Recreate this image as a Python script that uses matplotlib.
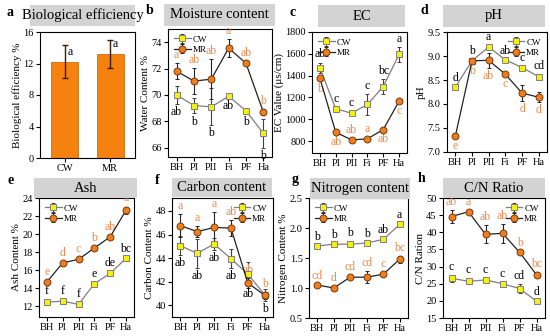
import matplotlib
matplotlib.use("Agg")
import matplotlib.pyplot as plt
from matplotlib.patches import Rectangle
import numpy as np

plt.rcParams['font.family'] = ['Liberation Serif', 'DejaVu Serif']
plt.rcParams['font.size'] = 8

# ---------------------------------------------------------------------------
# data
# ---------------------------------------------------------------------------
stages = ['BH', 'PI', 'PII', 'Fi', 'PF', 'Ha']
groups = ['CW', 'MR']

bio_eff = [12.2, 13.2]
bio_err = [2.1, 1.8]
bio_letters = ['a', 'a']

moist_cw = [70.0, 69.2, 69.1, 69.9, 68.8, 67.1]
moist_cw_err = [0.7, 0.6, 1.4, 0.15, 0.25, 1.1]
moist_mr = [71.8, 71.05, 71.2, 73.55, 72.4, 68.7]
moist_mr_err = [0.6, 1.0, 1.5, 0.7, 0.15, 0.2]
moist_cw_let = ['ab', 'b', 'b', 'ab', 'b', 'b']
moist_mr_let = ['a', 'ab', 'ab', 'a', 'ab', 'b']

ec_cw = [1470, 1095, 1055, 1135, 1300, 1595]
ec_cw_err = [50, 20, 20, 95, 70, 70]
ec_mr = [1375, 880, 810, 820, 905, 1165]
ec_mr_err = [20, 15, 15, 15, 15, 15]
ec_cw_let = ['ab', 'c', 'c', 'c', 'bc', 'a']
ec_mr_let = ['b', 'ab', 'ab', 'a', 'ab', 'c']

ph_cw = [8.35, 8.9, 9.19, 8.92, 8.76, 8.57]
ph_cw_err = [0.03, 0.03, 0.04, 0.02, 0.03, 0.05]
ph_mr = [7.33, 8.9, 8.91, 8.62, 8.23, 8.14]
ph_mr_err = [0.04, 0.04, 0.15, 0.03, 0.17, 0.1]
ph_cw_let = ['d', 'b', 'a', 'ab', 'c', 'cd']
ph_mr_let = ['e', 'b', 'ab', 'c', 'd', 'd']

ash_cw = [12.45, 12.55, 12.2, 14.5, 15.65, 17.3]
ash_cw_err = [0.3, 0.2, 0.2, 0.2, 0.2, 0.2]
ash_mr = [14.7, 16.8, 17.2, 18.45, 19.7, 22.65]
ash_mr_err = [0.2, 0.2, 0.2, 0.2, 0.2, 0.4]
ash_cw_let = ['f', 'f', 'f', 'e', 'de', 'bc']
ash_mr_let = ['e', 'd', 'c', 'b', 'ab', 'a']

carb_cw = [45.05, 44.4, 45.2, 43.95, 42.65, 40.9]
carb_cw_err = [0.8, 1.2, 0.5, 0.8, 1.0, 0.5]
carb_mr = [46.75, 46.25, 46.6, 46.55, 41.9, 40.85]
carb_mr_err = [1.0, 0.5, 1.3, 0.7, 0.4, 0.3]
carb_cw_let = ['ab', 'ab', 'ab', 'ab', 'ab', 'b']
carb_mr_let = ['a', 'a', 'a', 'ab', 'ab', 'b']

nit_cw = [1.70, 1.73, 1.73, 1.75, 1.81, 2.06]
nit_cw_err = [0.02, 0.02, 0.05, 0.02, 0.02, 0.03]
nit_mr = [1.05, 1.0, 1.18, 1.18, 1.23, 1.48]
nit_mr_err = [0.02, 0.03, 0.03, 0.1, 0.03, 0.06]
nit_cw_let = ['b', 'b', 'b', 'b', 'ab', 'a']
nit_mr_let = ['cd', 'd', 'cd', 'cd', 'c', 'bc']

cn_cw = [26.6, 25.7, 26.1, 25.0, 23.6, 19.9]
cn_cw_err = [1.0, 0.8, 0.5, 0.5, 1.2, 0.4]
cn_mr = [44.6, 46.0, 39.4, 39.7, 34.2, 27.6]
cn_mr_err = [1.8, 0.5, 2.6, 2.7, 0.4, 0.8]
cn_cw_let = ['c', 'c', 'c', 'c', 'cd', 'd']
cn_mr_let = ['ab', 'a', 'ab', 'ab', 'b', 'bc']

# ---------------------------------------------------------------------------
# styling
# ---------------------------------------------------------------------------
W, H = 550, 336
ORANGE = '#F5820F'
LET_OR = '#EE8A4E'

fig = plt.figure(figsize=(W / 100, H / 100), dpi=100)


def px_axes(x0, y0, x1, y1):
    """axes from pixel box (top-left origin)"""
    return fig.add_axes([x0 / W, 1 - y1 / H, (x1 - x0) / W, (y1 - y0) / H])


def title_box(x0, y0, x1, y1, text, letter, lx, ly):
    fig.patches.append(Rectangle((x0 / W, 1 - y1 / H), (x1 - x0) / W, (y1 - y0) / H,
                                 transform=fig.transFigure, facecolor='#D3D3D3',
                                 edgecolor='none', zorder=0))
    fig.text((x0 + x1) / 2 / W, 1 - (y0 + y1) / 2 / H, text, ha='center',
             va='center', fontsize=10.5)
    fig.text(lx / W, 1 - ly / H, letter, ha='center', va='center',
             fontsize=10, fontweight='bold')


def style_ax(ax):
    for s in ax.spines.values():
        s.set_linewidth(0.8)
    ax.tick_params(direction='out', length=3, width=0.8, pad=1.5, labelsize=7.5)


def put_letters(ax, xs, ys, errs, letters, where, color):
    for x, y, e, t, w in zip(xs, ys, errs, letters, where):
        if w == 'u':
            ax.annotate(t, (x, y + e), xytext=(0, 1.5), textcoords='offset points',
                        ha='center', va='bottom', color=color, fontsize=8.5)
        else:
            ax.annotate(t, (x, y - e), xytext=(0, -1.5), textcoords='offset points',
                        ha='center', va='top', color=color, fontsize=8.5)


def line_panel(ax, cw, cw_err, mr, mr_err, cw_let, mr_let, cw_where, mr_where,
               ylim, yticks, ylabel, legend_loc):
    x = np.arange(len(stages))
    ax.errorbar(x, cw, yerr=cw_err, color='#7F7F7F', lw=0.9, marker='s', ms=4.5,
                mfc='#F4F20C', mec='#7F7F7F', mew=0.7, ecolor='#404040',
                elinewidth=0.8, capsize=1.5, label='CW', zorder=3)
    ax.errorbar(x, mr, yerr=mr_err, color='#222222', lw=0.9, marker='o', ms=5,
                mfc='#EE7D1C', mec='#7A3A10', mew=0.7, ecolor='#222222',
                elinewidth=0.8, capsize=1.5, label='MR', zorder=3)
    put_letters(ax, x, cw, cw_err, cw_let, cw_where, 'black')
    put_letters(ax, x, mr, mr_err, mr_let, mr_where, LET_OR)
    ax.set_xlim(-0.5, len(stages) - 0.5)
    ax.set_ylim(*ylim)
    ax.set_yticks(yticks)
    ax.set_xticks(x)
    ax.set_xticklabels(stages)
    ax.set_ylabel(ylabel, fontsize=8, labelpad=1)
    ax.legend(loc=legend_loc, frameon=False, fontsize=6.5, handlelength=1.8,
              handletextpad=0.2, labelspacing=0.2, borderaxespad=0.3)
    style_ax(ax)


# a: biological efficiency
ax = px_axes(40, 32, 135, 158)
ax.bar([0, 1], bio_eff, width=0.6, color=ORANGE, edgecolor='#C06000', lw=0.5)
ax.errorbar([0, 1], bio_eff, yerr=bio_err, fmt='none', ecolor='#3A1A00',
            elinewidth=1, capsize=2)
for i, t in enumerate(bio_letters):
    ax.text(i + 0.12, bio_eff[i] + 0.5, t, ha='center', va='bottom', fontsize=8.5)
ax.set_xlim(-0.55, 1.55)
ax.set_ylim(0, 16)
ax.set_yticks([0, 4, 8, 12, 16])
ax.set_xticks([0, 1])
ax.set_xticklabels(groups)
ax.set_ylabel('Biological efficiency %', fontsize=8, labelpad=1)
style_ax(ax)
title_box(30, 5, 135, 26, 'Biological efficiency', 'a', 10, 12)

# b: moisture
ax = px_axes(168, 29, 272, 157)
line_panel(ax, moist_cw, moist_cw_err, moist_mr, moist_mr_err, moist_cw_let,
           moist_mr_let, 'dddddd', 'uuuuuu', (65.3, 75), [66, 68, 70, 72, 74],
           'Water Content %', 'upper left')
title_box(164, 4, 275, 26, 'Moisture content', 'b', 150, 10)

# c: EC
ax = px_axes(312, 32, 407, 153)
line_panel(ax, ec_cw, ec_cw_err, ec_mr, ec_mr_err, ec_cw_let, ec_mr_let,
           'uuuuuu', 'dduudd', (690, 1800), [800, 1000, 1200, 1400, 1600, 1800],
           'EC Value (μs/cm)', 'upper left')
title_box(318, 5, 405, 27, 'EC', 'c', 293, 12)

# d: pH
ax = px_axes(447, 32, 547, 152)
line_panel(ax, ph_cw, ph_cw_err, ph_mr, ph_mr_err, ph_cw_let, ph_mr_let,
           'uuuuuu', 'dddddd', (7.0, 9.5), [7.0, 7.5, 8.0, 8.5, 9.0, 9.5],
           'pH', 'upper right')
title_box(443, 5, 545, 27, 'pH', 'd', 424, 10)

# e: ash
ax = px_axes(39, 198, 134, 317)
line_panel(ax, ash_cw, ash_cw_err, ash_mr, ash_mr_err, ash_cw_let, ash_mr_let,
           'uuuuuu', 'uuuuuu', (10.8, 24), [12, 14, 16, 18, 20, 22, 24],
           'Ash Content %', 'upper left')
title_box(34, 178, 137, 198, 'Ash', 'e', 11, 181)

# f: carbon
ax = px_axes(172, 198, 273, 317)
line_panel(ax, carb_cw, carb_cw_err, carb_mr, carb_mr_err, carb_cw_let,
           carb_mr_let, 'dddddd', 'uuuuuu', (39, 49.1), [40, 42, 44, 46, 48],
           'Carbon Content %', 'upper right')
title_box(172, 178, 272, 197, 'Carbon content', 'f', 157, 181)

# g: nitrogen
ax = px_axes(309, 198, 408, 318)
line_panel(ax, nit_cw, nit_cw_err, nit_mr, nit_mr_err, nit_cw_let, nit_mr_let,
           'uuuuuu', 'uuuuuu', (0.5, 2.5), [0.5, 1.0, 1.5, 2.0, 2.5],
           'Nitrogen Content %', 'upper left')
title_box(310, 178, 410, 199, 'Nitrogen content', 'g', 295, 179)

# h: C/N
ax = px_axes(443, 198, 545, 318)
line_panel(ax, cn_cw, cn_cw_err, cn_mr, cn_mr_err, cn_cw_let, cn_mr_let,
           'uuuuuu', 'uuuuuu', (15, 50), [15, 20, 25, 30, 35, 40, 45, 50],
           'C/N Ration', 'upper right')
title_box(443, 178, 545, 198, 'C/N Ratio', 'h', 422, 178)

fig.savefig('out.png', dpi=100)
